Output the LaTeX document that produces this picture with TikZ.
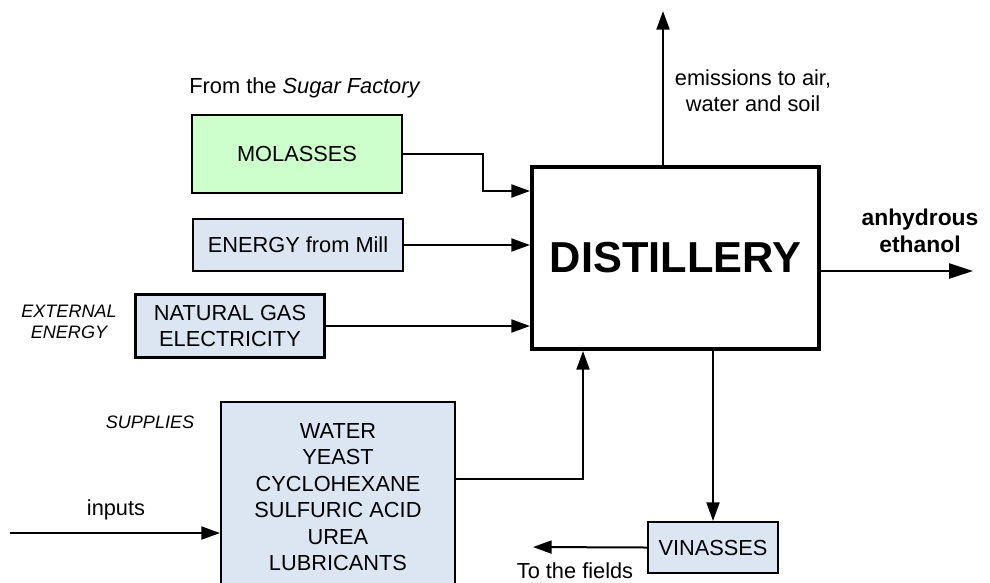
\documentclass[tikz,border=0pt]{standalone}
\usepackage{fontspec}
\setmainfont{Liberation Sans}
\usetikzlibrary{arrows.meta,positioning,calc}
\definecolor{ink}{HTML}{000000}
\definecolor{supplyblue}{HTML}{DCE6F2}
\definecolor{sugargreen}{HTML}{CCFFCC}
\tikzset{
  >={Triangle[length=5.6mm,width=3.9mm]},
  box/.style={draw=ink, line width=0.62mm, align=center, inner sep=0pt,
    font=\fontsize{18.6}{22.5}\selectfont},
  supplybox/.style={box, fill=supplyblue},
  sugarbox/.style={box, fill=sugargreen},
  plant/.style={draw=ink, line width=1.2mm, fill=white, inner sep=0pt,
    font=\bfseries\fontsize{37}{40}\selectfont},
  flow/.style={->, draw=ink, line width=0.6mm},
  mainflow/.style={flow, -{Triangle[length=7.2mm,width=4.5mm]}, line width=0.7mm},
  label/.style={font=\fontsize{18.6}{22}\selectfont, align=center},
  sidenote/.style={font=\itshape\fontsize{15.4}{18}\selectfont, align=center},
  product/.style={font=\bfseries\fontsize{19.5}{23}\selectfont, align=center}
}
\begin{document}
\begin{tikzpicture}[x=0.3mm,y=-0.3mm]
\useasboundingbox (0,0) rectangle (990,582);
\clip (0,0) rectangle (990,582);

% input boxes
\node[label] (fromsugar) at (305,88) {From the \textit{Sugar Factory}};
\node[sugarbox, minimum width=63mm, minimum height=23.4mm] (molasses) at (297,154) {MOLASSES};
\node[supplybox, minimum width=63mm, minimum height=15.6mm] (energy) at (298,245) {ENERGY from Mill};
\node[supplybox, minimum width=56.7mm, minimum height=18.9mm] (natgas) at (230,326) {NATURAL GAS\\ELECTRICITY};
\node[sidenote] (external) at (69,322) {EXTERNAL\\ENERGY};
\node[supplybox, minimum width=70.2mm, minimum height=57mm,
  font=\fontsize{18.6}{22.6}\selectfont] (supplies) at (338,497)
  {WATER\\YEAST\\CYCLOHEXANE\\SULFURIC ACID\\UREA\\LUBRICANTS};
\node[sidenote] (supplieslbl) at (150,422) {SUPPLIES};
\node[label] (inputslbl) at (116,510) {inputs};
\coordinate (inputsrc) at (10,533);

% plant and outputs
\node[plant, minimum width=86.1mm, minimum height=54.6mm] (distillery) at (675.5,258) {DISTILLERY};
\node[supplybox, minimum width=39mm, minimum height=15.3mm] (vinasses) at (713,547.5) {VINASSES};
\node[label] (emissions) at (753,91) {emissions to air,\\water and soil};
\node[product] (ethanol) at (920,231) {anhydrous\\ethanol};
\node[label] (fields) at (575,571) {To the fields};
\coordinate (emisstip) at (663,11);
\coordinate (ethtip) at (973,271);
\coordinate (fieldtip) at (533,547);

% flows
\draw[flow] (molasses.east) -- ++(80,0) |- ($(distillery.north west)+(0,26)$);
\draw[flow] (energy.east) -- (energy.east -| distillery.west);
\draw[flow] (natgas.east) -- (natgas.east -| distillery.west);
\draw[flow] ($(supplies.east)+(0,-18)$) -| ($(distillery.south west)+(53,0)$);
\draw[flow] (inputsrc) -- (inputsrc -| supplies.west);
\draw[flow] (distillery.north -| emisstip) -- (emisstip);
\draw[mainflow] (ethtip -| distillery.east) -- (ethtip);
\draw[flow] (distillery.south -| vinasses.north) -- (vinasses.north);
\draw[flow] (vinasses.west) -- (fieldtip);
\end{tikzpicture}
\end{document}
